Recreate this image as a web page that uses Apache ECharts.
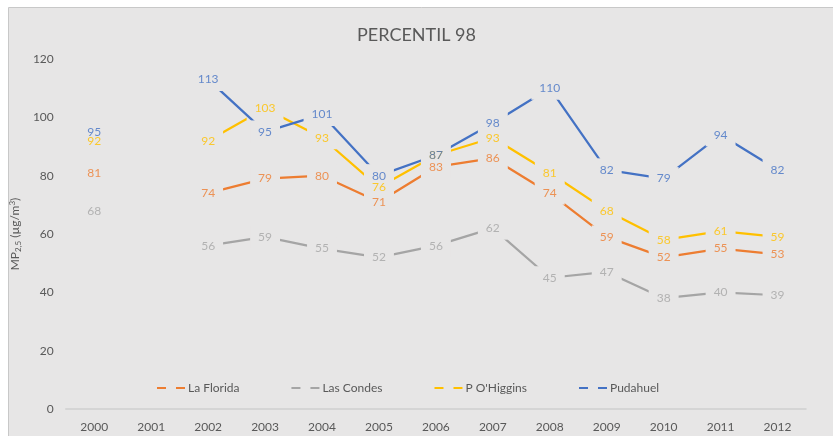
<!DOCTYPE html>
<html>
<head>
<meta charset="utf-8">
<script src="https://cdn.jsdelivr.net/npm/echarts@6/dist/echarts.min.js"></script>
<style>html,body{margin:0;padding:0;background:#fff;}#c{width:833px;height:436px;}</style>
</head>
<body>
<div id="c"></div>
<script>
const years = ['2000','2001','2002','2003','2004','2005','2006','2007','2008','2009','2010','2011','2012'];
const laFlorida = [81, null, 74, 79, 80, 71, 83, 86, 74, 59, 52, 55, 53];
const lasCondes = [68, null, 56, 59, 55, 52, 56, 62, 45, 47, 38, 40, 39];
const pOHiggins = [92, null, 92, 103, 93, 76, 87, 93, 81, 68, 58, 61, 59];
const pudahuel = [95, null, 113, 95, 101, 80, 87, 98, 110, 82, 79, 94, 82];
const seriesNames = ['La Florida', 'Las Condes', "P O'Higgins", 'Pudahuel'];
const yTicks = [0, 20, 40, 60, 80, 100, 120];

const colors = ['#ED7D31', '#A5A5A5', '#FFC000', '#4472C4'];
const BG = '#E7E6E6';
const FONT = 'Lato';
const legendIcon = 'path://M0,0 L9,0 L9,2 L0,2 Z M19,0 L28,0 L28,2 L19,2 Z';

// line series: labels are invisible text on a background that cuts a gap in the lines
function mkLine(name, data, i) {
  return {
    name: name, type: 'line', data: data,
    connectNulls: false,
    symbol: 'circle', symbolSize: 0, showSymbol: true,
    lineStyle: { color: colors[i], width: 2.25 },
    itemStyle: { color: colors[i] },
    label: {
      show: true, position: 'inside', color: 'rgba(0,0,0,0)',
      fontFamily: FONT, fontSize: 12,
      backgroundColor: BG, padding: [6, 8, 5, 8]
    },
    emphasis: { disabled: true },
    z: 2 + i
  };
}
// text-only overlay so every label stays visible above all gaps
function mkText(name, data, i) {
  return {
    name: name + ' ', type: 'scatter', data: data,
    symbol: 'circle', symbolSize: 0,
    itemStyle: { color: colors[i] },
    label: {
      show: true, position: 'inside', color: colors[i],
      fontFamily: FONT, fontSize: 12
    },
    emphasis: { disabled: true },
    silent: true,
    z: 10
  };
}

const chart = echarts.init(document.getElementById('c'), null, { renderer: 'canvas' });
chart.setOption({
  animation: false,
  backgroundColor: '#ffffff',
  color: colors,
  graphic: [{
    type: 'rect', z: -10, silent: true,
    shape: { x: 8.5, y: 7.5, width: 840, height: 440 },
    style: { fill: BG, stroke: '#C8C8C8', lineWidth: 1 }
  }],
  title: {
    text: 'PERCENTIL 98', left: 'center', top: 21,
    textStyle: { fontFamily: FONT, fontSize: 18, fontWeight: 'normal', color: '#595959' }
  },
  legend: {
    data: seriesNames, left: 152, top: 377, itemGap: 52,
    itemWidth: 28, itemHeight: 2, icon: legendIcon,
    textStyle: { fontFamily: FONT, fontSize: 12, color: '#595959', padding: [0, 0, 0, -2] }
  },
  grid: { left: 62, right: 27, top: 59, bottom: 27 },
  xAxis: {
    type: 'category', data: years, boundaryGap: true,
    axisLine: { lineStyle: { color: '#D0D0D0', width: 1.5 } },
    axisTick: { show: false },
    axisLabel: { fontFamily: FONT, fontSize: 12, color: '#595959', margin: 12 }
  },
  yAxis: {
    type: 'value', min: yTicks[0], max: yTicks[yTicks.length - 1], interval: 20,
    axisLine: { show: false }, axisTick: { show: false },
    splitLine: { show: false },
    axisLabel: { fontFamily: FONT, fontSize: 12, color: '#595959', margin: 12 },
    name: 'MP{sub|2,5} (µg/m{sup|3})',
    nameLocation: 'middle', nameRotate: 90, nameGap: 33,
    nameTextStyle: {
      fontFamily: FONT, fontSize: 12, color: '#595959',
      rich: {
        sub: { fontFamily: FONT, fontSize: 8, color: '#595959', verticalAlign: 'bottom', padding: [6, 0, 0, 0] },
        sup: { fontFamily: FONT, fontSize: 8, color: '#595959', verticalAlign: 'top', padding: [0, 0, 6, 0] }
      }
    }
  },
  series: [
    mkLine(seriesNames[0], laFlorida, 0),
    mkLine(seriesNames[1], lasCondes, 1),
    mkLine(seriesNames[2], pOHiggins, 2),
    mkLine(seriesNames[3], pudahuel, 3),
    mkText(seriesNames[0], laFlorida, 0),
    mkText(seriesNames[1], lasCondes, 1),
    mkText(seriesNames[2], pOHiggins, 2),
    mkText(seriesNames[3], pudahuel, 3)
  ]
});
</script>
</body>
</html>
